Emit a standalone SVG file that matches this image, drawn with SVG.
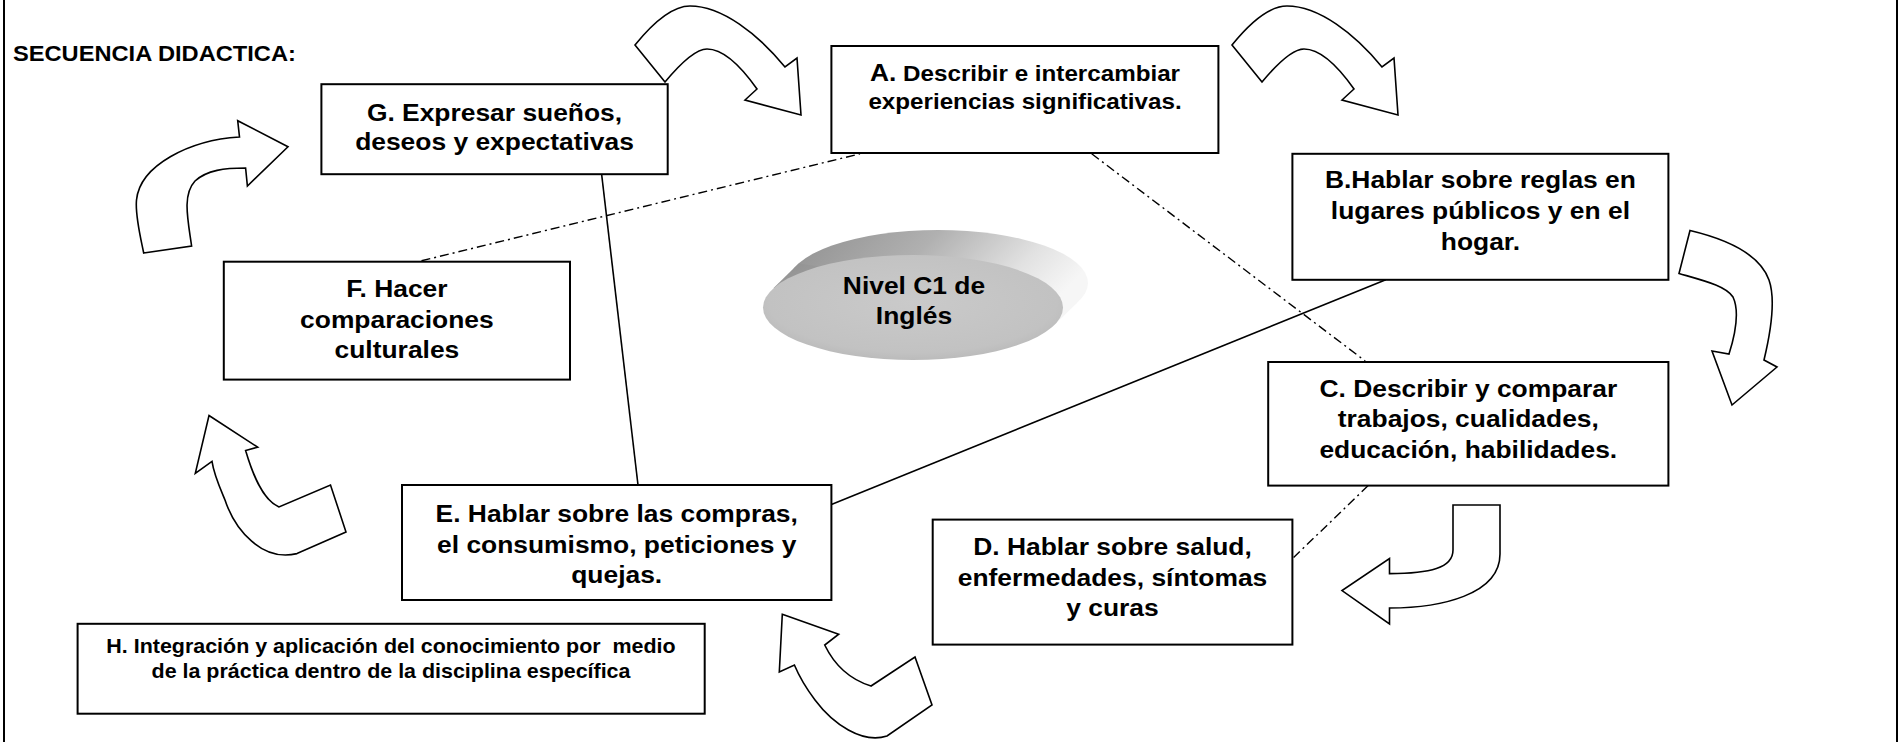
<svg xmlns="http://www.w3.org/2000/svg" width="1902" height="742" viewBox="0 0 1902 742">
<defs>
<style>
.box{fill:#fff;stroke:#000;stroke-width:2}
.arr{fill:#fff;stroke:#000;stroke-width:1.6;stroke-linejoin:miter}
.t{font-family:"Liberation Sans",Arial,sans-serif;font-weight:bold;fill:#000;text-anchor:middle}
.m{font-size:24px}
.solid{stroke:#000;stroke-width:1.6;fill:none}
.dd{stroke:#000;stroke-width:1.4;fill:none;stroke-dasharray:9 4 2 4}
</style>
<linearGradient id="side" x1="0" y1="0" x2="1" y2="0.35">
<stop offset="0" stop-color="#8e8e8e"/>
<stop offset="0.45" stop-color="#b0b0b0"/>
<stop offset="0.8" stop-color="#e2e2e2"/>
<stop offset="1" stop-color="#f6f6f6"/>
</linearGradient>
<radialGradient id="face" cx="0.5" cy="0.45" r="0.6">
<stop offset="0" stop-color="#cacaca"/>
<stop offset="0.8" stop-color="#c2c2c2"/>
<stop offset="1" stop-color="#b6b6b6"/>
</radialGradient>
<path id="topArrow" d="M635,45 C652,24 672,6 690,6 C722,6 758,34 785,67 L797,58 L801,115 L745,100 L757,89 C745,72 726,49 707,49 C695,49 680,64 665,82 Z"/>
</defs>

<g id="frame">
<line x1="4" y1="0" x2="4" y2="742" stroke="#000" stroke-width="2"/>
<line x1="1897" y1="0" x2="1897" y2="742" stroke="#000" stroke-width="2"/>
</g>

<text id="title" class="t" style="font-size:21.5px;text-anchor:start" transform="matrix(1.1 0 0 1 13 0)" x="0" y="60.6">SECUENCIA DIDACTICA:</text>

<g id="connectors">
<line class="solid" x1="601.6" y1="174" x2="638" y2="485"/>
<line class="solid" x1="831.4" y1="504.5" x2="1385.8" y2="279.7"/>
<line class="dd" x1="421.5" y1="260.8" x2="860" y2="153.8"/>
<line class="dd" x1="1091.7" y1="153.8" x2="1365.2" y2="361"/>
<line class="dd" x1="1368.2" y1="485.6" x2="1293.6" y2="557.5"/>
</g>

<g id="arrows">
<use href="#topArrow" class="arr"/>
<use href="#topArrow" class="arr" transform="translate(597 0)"/>
<path class="arr" d="M1690,230.5 C1730,240 1760,255 1769,280 C1776,300 1770,335 1764,360 L1777,367 L1732,405 L1712,351 L1729,354 C1735,335 1740,312 1733,297 C1726,286 1705,281 1679,273.5 Z"/>
<path class="arr" d="M1453,505 L1500,505 L1500,554 C1500,595 1440,608 1389.5,608 L1389.5,624 L1342,590.6 L1389.5,558.6 L1389.5,573.6 C1430,573.6 1453,568 1453,550 Z"/>
<path class="arr" d="M782.3,614.3 L838.7,634.2 L824.7,645 C832,660 845,678 871,686 L915,657 L932,705 L887,736 C862,744 833,724 815,700 C806,688 799,676 794.4,665 L779.3,672 Z"/>
<path class="arr" d="M209,415.5 L257.7,447.2 L245.6,450.5 C252,472 262,500 279,507 L330.5,485 L346,532 L297,553.6 C262,562 235,530 225,500 C220,488 214,475 212,461.4 L195.3,473.3 Z"/>
<path class="arr" d="M143.7,253 L191.6,246 C188,220 182,195 195,181 C207,170 225,168 245.6,168 L247.4,186 L288,146.7 L237.7,120.7 L239.5,137 C190,140 140,165 136.5,200 C135,215 140,235 143.7,253 Z"/>
</g>

<g id="center">
<ellipse cx="938" cy="283" rx="150" ry="53" fill="url(#side)"/>
<polygon points="773.6,288.1 798.6,263.6 1077.4,302.4 1052.4,326.9" fill="url(#side)"/>
<ellipse cx="913" cy="307.5" rx="150" ry="52.5" fill="url(#face)"/>
<text class="t m" transform="matrix(1.1 0 0 1 914 0)"><tspan x="0" y="294.4">Nivel C1 de</tspan><tspan x="0" y="324.2">Inglés</tspan></text>
</g>

<g id="nodeG">
<rect class="box" x="321.4" y="84.2" width="346.3" height="90"/>
<text class="t m" transform="matrix(1.1 0 0 1 494.5 0)"><tspan x="0" y="120.7">G. Expresar sueños,</tspan><tspan x="0" y="150.5">deseos y expectativas</tspan></text>
</g>

<g id="nodeA">
<rect class="box" x="831.4" y="46" width="387" height="107"/>
<text class="t" style="font-size:22px" transform="matrix(1.1 0 0 1 1025 0)"><tspan x="0" y="81.4"><tspan style="font-size:24px">A.</tspan> Describir e intercambiar</tspan><tspan x="0" y="108.8">experiencias significativas.</tspan></text>
</g>

<g id="nodeB">
<rect class="box" x="1292.4" y="153.8" width="376" height="126"/>
<text class="t m" transform="matrix(1.1 0 0 1 1480.4 0)"><tspan x="0" y="188.4">B.Hablar sobre reglas en</tspan><tspan x="0" y="219.1">lugares públicos y en el</tspan><tspan x="0" y="249.9">hogar.</tspan></text>
</g>

<g id="nodeC">
<rect class="box" x="1268.2" y="362" width="400.2" height="123.6"/>
<text class="t m" transform="matrix(1.1 0 0 1 1468.3 0)"><tspan x="0" y="396.6">C. Describir y comparar</tspan><tspan x="0" y="427.4">trabajos, cualidades,</tspan><tspan x="0" y="458.1">educación, habilidades.</tspan></text>
</g>

<g id="nodeD">
<rect class="box" x="932.7" y="519.6" width="359.7" height="125"/>
<text class="t m" transform="matrix(1.1 0 0 1 1112.5 0)"><tspan x="0" y="554.7">D. Hablar sobre salud,</tspan><tspan x="0" y="585.9">enfermedades, síntomas</tspan><tspan x="0" y="616.2">y curas</tspan></text>
</g>

<g id="nodeE">
<rect class="box" x="402" y="485" width="429.4" height="115"/>
<text class="t m" transform="matrix(1.1 0 0 1 616.7 0)"><tspan x="0" y="522">E. Hablar sobre las compras,</tspan><tspan x="0" y="552.8">el consumismo, peticiones y</tspan><tspan x="0" y="583">quejas.</tspan></text>
</g>

<g id="nodeF">
<rect class="box" x="223.8" y="261.7" width="346.2" height="117.9"/>
<text class="t m" transform="matrix(1.1 0 0 1 396.9 0)"><tspan x="0" y="297.2">F. Hacer</tspan><tspan x="0" y="328">comparaciones</tspan><tspan x="0" y="358.3">culturales</tspan></text>
</g>

<g id="nodeH">
<rect class="box" x="77.6" y="623.8" width="627.1" height="89.9"/>
<text class="t" style="font-size:19.5px" xml:space="preserve" transform="matrix(1.1 0 0 1 391 0)"><tspan x="0" y="653">H. Integración y aplicación del conocimiento por  medio</tspan><tspan x="0" y="677.7">de la práctica dentro de la disciplina específica</tspan></text>
</g>
</svg>
